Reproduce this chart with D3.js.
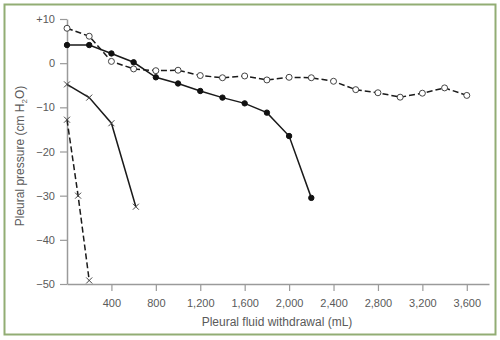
<!DOCTYPE html>
<html>
<head>
<meta charset="utf-8">
<script src="https://cdn.jsdelivr.net/npm/d3@7"></script>
<style>
  html, body { margin: 0; padding: 0; background: #fff; }
  svg { display: block; }
  text { font-family: "Liberation Sans", Arial, sans-serif; fill: #5a5a5a; }
</style>
</head>
<body>
<svg id="chart" width="500" height="340"></svg>
<script>
// Pleural pressure during fluid withdrawal, four patients
const xTicks = [400, 800, 1200, 1600, 2000, 2400, 2800, 3200, 3600];
const yTicks = [10, 0, -10, -20, -30, -40, -50];
const yTickLabels = ["+10", "0", "\u221210", "\u221220", "\u221230", "\u221240", "\u221250"];

// open circles, dashed
const openVolume = [0, 200, 400, 600, 800, 1000, 1200, 1400, 1600, 1800, 2000, 2200, 2400, 2600, 2800, 3000, 3200, 3400, 3600];
const openPressure = [7.9, 6.1, 0.4, -1.3, -1.7, -1.6, -2.8, -3.3, -2.9, -3.8, -3.2, -3.3, -4.1, -6.0, -6.7, -7.7, -6.8, -5.6, -7.3];

// filled circles, solid
const filledVolume = [0, 200, 400, 600, 800, 1000, 1200, 1400, 1600, 1800, 2000, 2200];
const filledPressure = [4.1, 4.1, 2.2, 0.2, -3.2, -4.6, -6.3, -7.8, -9.1, -11.2, -16.5, -30.5];

// crosses, solid
const crossSolidVolume = [0, 200, 400, 620];
const crossSolidPressure = [-4.8, -7.8, -13.6, -32.5];

// crosses, dashed
const crossDashedVolume = [0, 100, 200];
const crossDashedPressure = [-12.8, -30, -49.2];

const svg = d3.select("#chart");

// frame
svg.append("rect")
  .attr("x", 4.5).attr("y", 4.5)
  .attr("width", 491).attr("height", 330)
  .attr("fill", "#fff")
  .attr("stroke", "#92ad74")
  .attr("stroke-width", 2);

const x = d3.scaleLinear().domain([0, 3800]).range([67, 489]);
const y = d3.scaleLinear().domain([-50, 10]).range([284, 19]);

const axisColor = "#9a9a9a";
const tickFont = "'Liberation Sans', Arial, sans-serif";

// x axis
const xAxis = svg.append("g")
  .attr("transform", `translate(0,${y(-50)})`)
  .call(d3.axisBottom(x).tickValues(xTicks).tickSize(7).tickPadding(8)
    .tickFormat(d3.format(",")).tickSizeOuter(0));
xAxis.select(".domain").attr("stroke", axisColor).attr("stroke-width", 1.5);
xAxis.selectAll(".tick line").attr("stroke", axisColor).attr("stroke-width", 1.2);
xAxis.selectAll(".tick text").attr("fill", "#5a5a5a").style("font-size", "11px")
  .style("font-family", tickFont);

// y axis
const yAxis = svg.append("g")
  .attr("transform", `translate(${x(0)},0)`)
  .call(d3.axisLeft(y).tickValues(yTicks).tickSize(7).tickPadding(5)
    .tickFormat((d, i) => yTickLabels[i]).tickSizeOuter(0));
yAxis.select(".domain").attr("stroke", axisColor).attr("stroke-width", 1.5);
yAxis.selectAll(".tick line").attr("stroke", axisColor).attr("stroke-width", 1.2);
yAxis.selectAll(".tick text").attr("fill", "#5a5a5a").style("font-size", "11px")
  .style("font-family", tickFont);

// axis titles
svg.append("text")
  .attr("x", 277).attr("y", 326)
  .attr("text-anchor", "middle")
  .style("font-size", "12px")
  .text("Pleural fluid withdrawal (mL)");

const yTitle = svg.append("text")
  .attr("transform", "translate(24,156) rotate(-90)")
  .attr("text-anchor", "middle")
  .style("font-size", "12px");
yTitle.append("tspan").text("Pleural pressure (cm H");
yTitle.append("tspan").attr("dy", 3).style("font-size", "8px").text("2");
yTitle.append("tspan").attr("dy", -3).text("O)");

const line = d3.line().x(d => x(d[0])).y(d => y(d[1]));
const zip = (a, b) => a.map((v, i) => [v, b[i]]);

const series = [
  { pts: zip(crossDashedVolume, crossDashedPressure), dash: "6,3", marker: "cross" },
  { pts: zip(crossSolidVolume, crossSolidPressure), dash: null, marker: "cross" },
  { pts: zip(filledVolume, filledPressure), dash: null, marker: "filled" },
  { pts: zip(openVolume, openPressure), dash: "6,3", marker: "open" }
];

series.forEach(s => {
  svg.append("path")
    .datum(s.pts)
    .attr("d", line)
    .attr("fill", "none")
    .attr("stroke", "#1a1a1a")
    .attr("stroke-width", 1.5)
    .attr("stroke-dasharray", s.dash);

  const g = svg.append("g");
  if (s.marker === "cross") {
    const r = 3;
    g.selectAll("path").data(s.pts).enter().append("path")
      .attr("d", d => {
        const cx = x(d[0]), cy = y(d[1]);
        return `M${cx - r},${cy - r}L${cx + r},${cy + r}M${cx - r},${cy + r}L${cx + r},${cy - r}`;
      })
      .attr("stroke", "#444")
      .attr("stroke-width", 1)
      .attr("fill", "none");
  } else {
    g.selectAll("circle").data(s.pts).enter().append("circle")
      .attr("cx", d => x(d[0]))
      .attr("cy", d => y(d[1]))
      .attr("r", s.marker === "open" ? 3 : 2.7)
      .attr("fill", s.marker === "open" ? "#fff" : "#111")
      .attr("stroke", s.marker === "open" ? "#444" : "#111")
      .attr("stroke-width", 1);
  }
});
</script>
</body>
</html>
